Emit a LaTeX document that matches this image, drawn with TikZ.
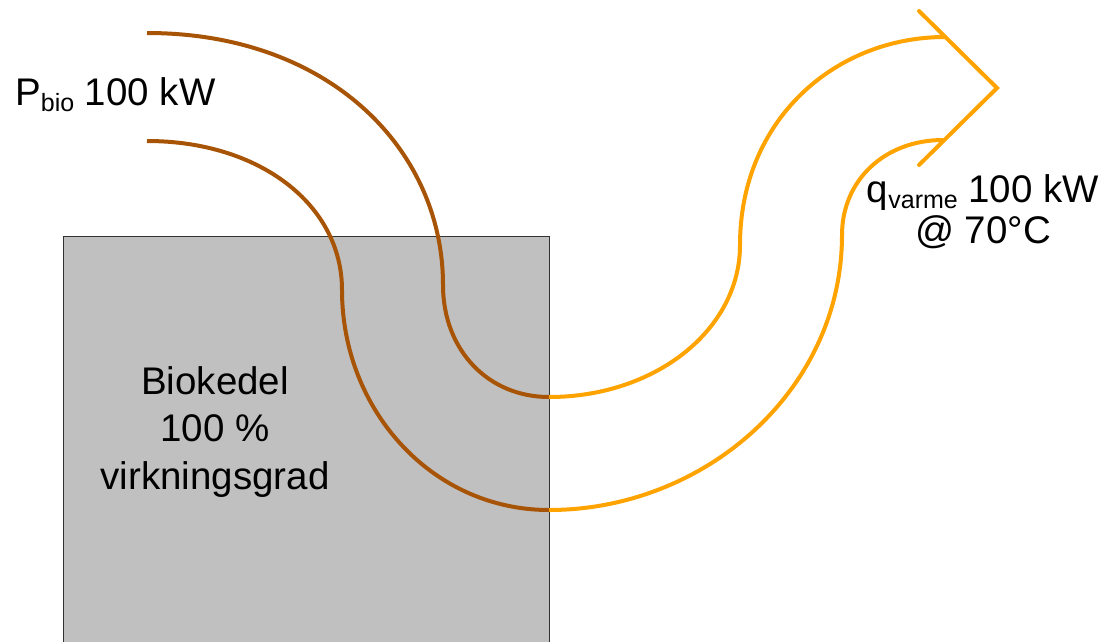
\documentclass[tikz,border=0pt]{standalone}
\usepackage{fontspec}
\setmainfont{Liberation Sans}
\definecolor{bioBrown}{RGB}{168,84,6}
\definecolor{heatOrange}{RGB}{255,163,0}
\definecolor{boxGray}{RGB}{192,192,192}
\definecolor{boxEdge}{RGB}{50,50,50}
\begin{document}
\begin{tikzpicture}[x=1pt,y=-1pt,
  flowin/.style={draw=bioBrown,line width=4pt},
  flowout/.style={draw=heatOrange,line width=4pt},
  lbl/.style={inner sep=0pt,font=\fontsize{38.5}{47.5}\selectfont,text=black}]
\useasboundingbox (0,0) rectangle (1105,641);
% boiler
\node[draw=boxEdge,line width=1.2pt,fill=boxGray,minimum width=486pt,minimum height=430pt,anchor=north west,inner sep=0pt] (boiler) at (63,236) {};
\node[lbl,align=center,anchor=base] (boilertxt) at (215,489) {Biokedel\\100 \%\\virkningsgrad};
% labels
\node[lbl,anchor=base west] (pbio) at (15,105) {P\raisebox{-6pt}{\fontsize{25}{30}\selectfont bio} 100 kW};
\node[lbl,anchor=base,align=center] (qvarme) at (983,202) {q\raisebox{-6pt}{\fontsize{25}{30}\selectfont varme} 100 kW};
\node[lbl,anchor=base] (temp) at (983,243) {@ 70°C};
% coordinates
\coordinate (a0) at (147,33);
\coordinate (a1) at (443,285);
\coordinate (a2) at (549,397);
\coordinate (a3) at (740,245);
\coordinate (a4) at (945,37);
\coordinate (b0) at (147,141);
\coordinate (b1) at (342,290);
\coordinate (b2) at (549,510);
\coordinate (b3) at (842,235);
\coordinate (b4) at (943,140);
\coordinate (tipA) at (919,11);
\coordinate (tip) at (997,88);
\coordinate (tipB) at (919,165);
% brown input flow
\draw[flowin] (a0) .. controls (330,33) and (443,150) .. (a1)
  .. controls (443,350) and (488,397) .. (a2);
\draw[flowin] (b0) .. controls (260,141) and (342,205) .. (b1)
  .. controls (342,410) and (432,510) .. (b2);
% orange output flow
\draw[flowout] (a2) .. controls (655,397) and (740,330) .. (a3)
  .. controls (740,120) and (835,37) .. (a4);
\draw[flowout] (b2) .. controls (705,510) and (842,390) .. (b3)
  .. controls (842,180) and (885,140) .. (b4);
\draw[flowout,line join=miter,line cap=round] (tipA) -- (tip) -- (tipB);
\end{tikzpicture}
\end{document}
